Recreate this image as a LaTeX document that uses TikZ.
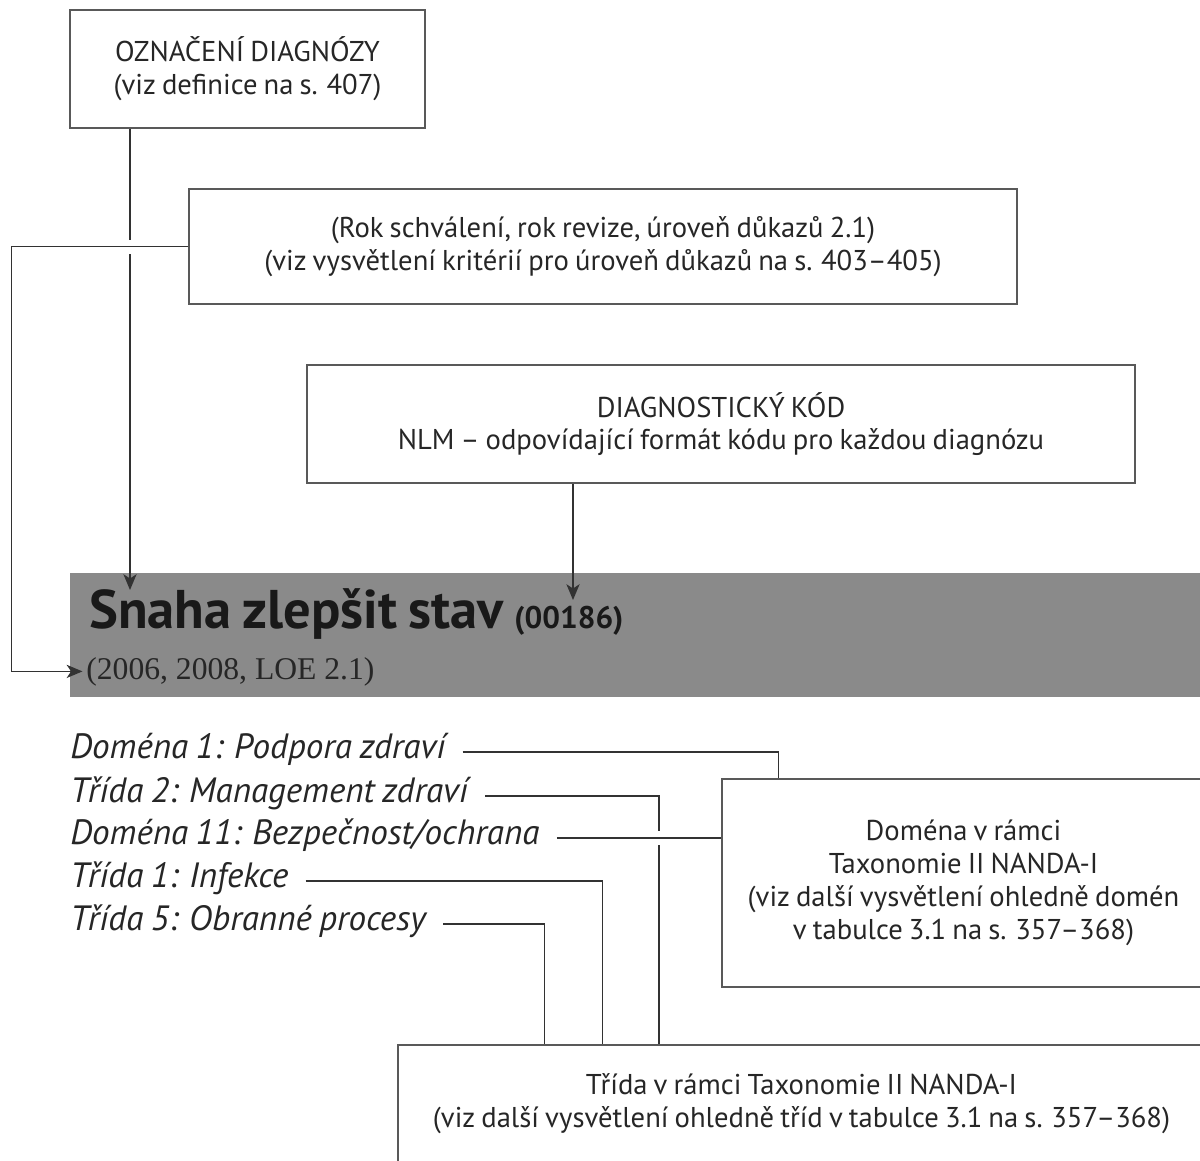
\documentclass[tikz,border=0pt]{standalone}
\usepackage{fontspec}
\setmainfont[WordSpace=0.8]{PT Sans}
\newfontfamily\loefont{Liberation Serif}
\usepackage{tikz}
\usetikzlibrary{arrows.meta,positioning}
\definecolor{linegray}{RGB}{50,50,50}
\definecolor{bandgray}{RGB}{138,138,138}
\tikzset{
    %Define standard arrow tip
    >={Stealth[length=9pt,width=7.5pt,inset=2.5pt]},
    %Define style for boxes
    infobox/.style={
           rectangle,
           draw=black!65, line width=0.9pt,
           font=\fontsize{16.3}{18.7}\selectfont,
           align=center,
           text=black!85,
           inner sep=0pt,
           },
    band/.style={
           rectangle,
           fill=bandgray,
           inner sep=0pt,
           },
    title/.style={
           font=\fontsize{31}{31}\selectfont\bfseries,
           text=black!90,
           inner sep=0pt,
           },
    loe/.style={
           font=\loefont\fontsize{18}{18}\selectfont,
           text=black!85,
           inner sep=0pt,
           },
    lbl/.style={
           font=\fontsize{20}{20}\selectfont\itshape,
           text=black!85,
           anchor=west,
           inner sep=0pt,
           text height=0.7em,
           text depth=0pt,
           },
    gapmark/.style={
           fill=white,
           inner sep=0pt,
           minimum width=4pt,
           minimum height=0.28cm,
           },
    % Define arrow style
    pil/.style={
           ->,
           draw=linegray,
           line width=0.85pt,
           },
    link/.style={
           draw=linegray,
           line width=0.85pt,
           },
}
\begin{document}
\begin{tikzpicture}[x=0.02cm,y=-0.02cm]
\path[use as bounding box,clip] (0,0) rectangle (1200,1160);
% boxes above the band
\node[infobox,minimum width=7.1cm,minimum height=2.36cm](name) at (247.5,69){OZNAČENÍ DIAGNÓZY\\(viz definice na s. 407)};
\node[infobox,minimum width=16.56cm,minimum height=2.3cm](year) at (603,246.5){(Rok schválení, rok revize, úroveň důkazů 2.1)\\(viz vysvětlení kritérií pro úroveň důkazů na s. 403–405)};
\node[infobox,minimum width=16.56cm,minimum height=2.36cm](code) at (721,424){DIAGNOSTICKÝ KÓD\\NLM – odpovídající formát kódu pro každou diagnózu};
% the grey band
\node[band,minimum width=22.7cm,minimum height=2.48cm](band) at (637.5,635){};
\node[title,anchor=base west](title) at (89,628){Snaha zlepšit stav {\fontsize{17.8}{17.8}\selectfont(00186)}};
\node[loe,anchor=base west](loe) at (86,679){(2006, 2008, LOE 2.1)};
\coordinate (nameend) at (130,590);
\coordinate (codeend) at (573,600);
% boxes below the band
\node[infobox,minimum width=9.66cm,minimum height=4.16cm](domain) at (963.5,883){Doména v rámci\\Taxonomie II NANDA-I\\(viz další vysvětlení ohledně domén\\v tabulce 3.1 na s. 357–368)};
\node[infobox,minimum width=16.14cm,minimum height=2.34cm](class) at (801.5,1103.5){Třída v rámci Taxonomie II NANDA-I\\(viz další vysvětlení ohledně tříd v tabulce 3.1 na s. 357–368)};
\node[lbl](dom1) at (70,752){Doména 1: Podpora zdraví};
\node[lbl](cls2) at (70,796){Třída 2: Management zdraví};
\node[lbl](dom11) at (70,838){Doména 11: Bezpečnost/ochrana};
\node[lbl](cls1) at (70,881){Třída 1: Infekce};
\node[lbl](cls5) at (70,924){Třída 5: Obranné procesy};
\coordinate (dom1drop) at ([xshift=1.14cm]domain.north west);
\coordinate (cls2drop) at ([xshift=5.24cm]class.north west);
\coordinate (cls1drop) at ([xshift=4.1cm]class.north west);
\coordinate (cls5drop) at ([xshift=2.94cm]class.north west);
% connectors
\draw[pil] (name.south -| nameend) -- (nameend);
\node[gapmark] at (nameend |- year.west){};
\draw[pil] (year.west) -- ++(-177,0) |- ([xshift=-2pt]loe.west);
\draw[pil] (code.south -| codeend) -- (codeend);
\draw[link] ([xshift=0.34cm]dom1.east) -| (dom1drop);
\draw[link] ([xshift=0.34cm]cls2.east) -| (cls2drop);
\node[gapmark] at (cls2drop |- dom11.east){};
\draw[link] ([xshift=0.34cm]dom11.east) -- (domain.west |- dom11.east);
\draw[link] ([xshift=0.34cm]cls1.east) -| (cls1drop);
\draw[link] ([xshift=0.34cm]cls5.east) -| (cls5drop);
\end{tikzpicture}
\end{document}
